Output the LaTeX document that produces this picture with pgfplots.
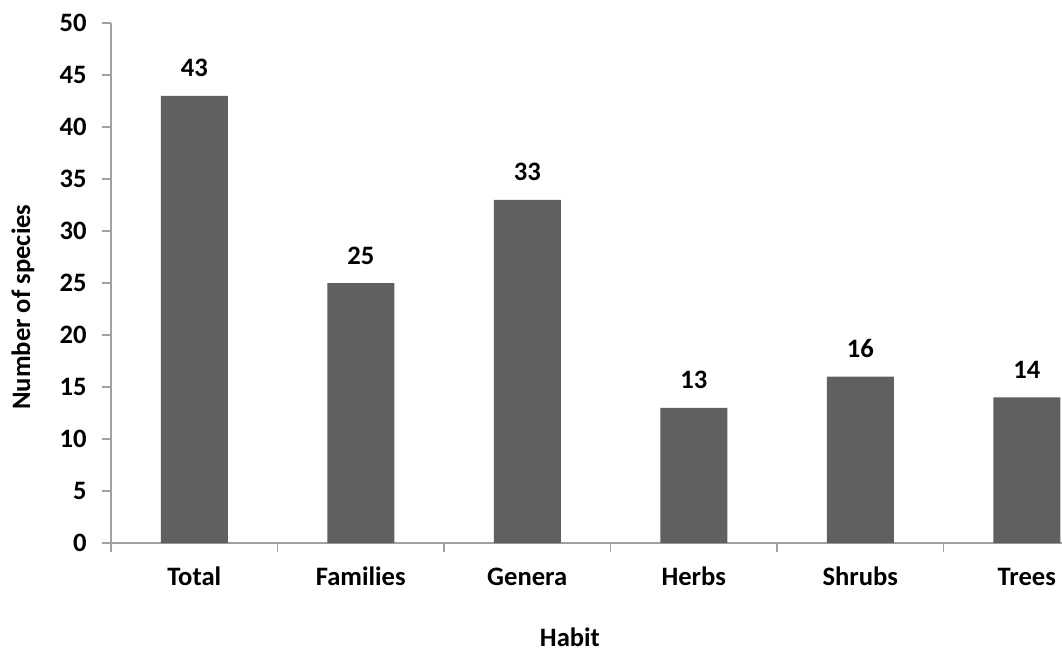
\documentclass[border=0pt]{standalone}
\usepackage{fontspec}
\setmainfont{Carlito}
\usepackage{pgfplots}
\pgfplotsset{compat=1.18}
\definecolor{barfill}{HTML}{606060}
\definecolor{axisgray}{HTML}{A0A0A0}
\newcommand\lbl{\fontsize{13.3bp}{15.5bp}\selectfont\bfseries}
\begin{document}
\begin{tikzpicture}
\begin{axis}[
  scale only axis,
  width=475.5bp, height=260bp,
  xmin=-0.5, xmax=5.2117, ymin=0, ymax=50,
  ybar, bar width=33.5bp,
  axis x line*=bottom, axis y line*=left,
  axis line style={axisgray, line width=0.6bp},
  tick style={axisgray, line width=0.6bp},
  tick align=outside,
  major tick length=4.5bp, minor tick length=4.5bp,
  xtick={0,...,5},
  xticklabels={Total,Families,Genera,Herbs,Shrubs,Trees},
  major x tick style={draw=none},
  minor xtick={-0.5,0.5,1.5,2.5,3.5,4.5},
  ytick={0,5,...,50},
  /pgf/number format/assume math mode=true,
  ticklabel style={font=\lbl, text=black},
  xticklabel style={anchor=base, inner sep=0pt, yshift=-16.5bp},
  yticklabel style={anchor=east, inner sep=0pt, xshift=-7.5bp},
  xlabel={Habit},
  ylabel={Number of species},
  label style={font=\lbl, text=black},
  xlabel style={at={(rel axis cs:0.4826,0)}, anchor=base, inner sep=0pt, yshift=-51.5bp},
  ylabel style={at={(rel axis cs:0,0.4538)}, anchor=center, inner sep=0pt, yshift=44bp},
  nodes near coords,
  every node near coord/.append style={font=\lbl, text=black, anchor=base, inner sep=0pt, yshift=9.5bp},
]
\addplot[fill=barfill, draw=none] coordinates {(0,43) (1,25) (2,33) (3,13) (4,16) (5,14)};
\end{axis}
\pgfresetboundingbox
\path[use as bounding box] ([shift={(-55.5bp,-54bp)}]current axis.south west) rectangle ([shift={(0,11.5bp)}]current axis.north east);
\end{tikzpicture}
\end{document}
